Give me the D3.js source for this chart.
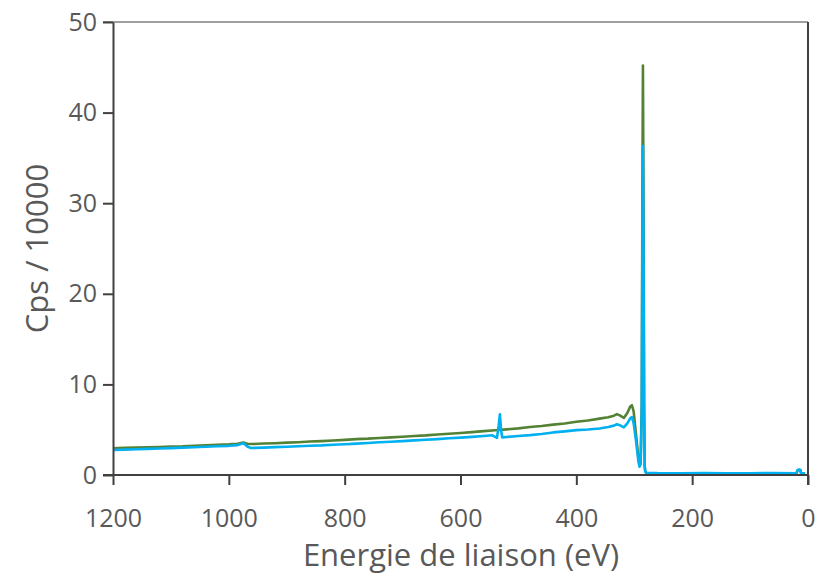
<!DOCTYPE html>
<html>
<head>
<meta charset="utf-8">
<script src="https://cdn.jsdelivr.net/npm/d3@7"></script>
<style>
  body { margin: 0; background: #fff; }
  text { font-family: "Open Sans", sans-serif; fill: #595959; }
</style>
</head>
<body>
<div id="chart"></div>
<script>
let width = 817,
    height = 578,
    margin = ({ top: 22, right: 9, bottom: 103, left: 113 });

// binding energy (eV) / counts (Cps / 10000), green series
const greenEnergy = [1200, 1180, 1160, 1140, 1120, 1100, 1080, 1060, 1040, 1020, 1000, 985, 975, 968, 960,
  940, 920, 900, 880, 860, 840, 820, 800, 780, 760, 740, 720, 700, 680, 660, 640, 620, 600, 580, 560,
  540, 520, 500, 480, 460, 440, 420, 400, 380, 360, 345, 335, 330, 325, 318, 312, 307, 304, 301, 297,
  293, 291, 289, 287, 286, 285, 284, 283, 282, 281, 279, 260, 220, 180, 140, 100, 60, 20, 18, 15, 13, 12, 5];
const greenCps = [2.95, 2.99, 3.02, 3.05, 3.09, 3.14, 3.17, 3.23, 3.27, 3.32, 3.38, 3.45, 3.58, 3.45, 3.42,
  3.47, 3.51, 3.57, 3.62, 3.69, 3.74, 3.81, 3.88, 3.96, 4.01, 4.09, 4.15, 4.23, 4.30, 4.37, 4.47, 4.55, 4.63, 4.73, 4.84,
  4.94, 5.04, 5.15, 5.29, 5.41, 5.56, 5.69, 5.87, 6.02, 6.22, 6.37, 6.55, 6.72, 6.58, 6.30, 6.85, 7.55, 7.70, 7.00, 4.50,
  2.00, 1.10, 1.30, 8.0, 30.0, 45.2, 30.0, 8.0, 1.0, 0.40, 0.22, 0.17, 0.16, 0.17, 0.15, 0.16, 0.17, 0.16, 0.50, 0.55, 0.52, 0.18, 0.16];

// cyan series
const cyanEnergy = [1200, 1180, 1160, 1140, 1120, 1100, 1080, 1060, 1040, 1020, 1000, 985, 975, 968, 962,
  940, 920, 900, 880, 860, 840, 820, 800, 780, 760, 740, 720, 700, 680, 660, 640, 620, 600, 580, 560,
  545, 537, 534, 532, 530, 528, 520, 500, 480, 460, 440, 420, 400, 380, 360, 345, 335, 330, 325, 318,
  312, 307, 304, 301, 297, 293, 291, 289, 287, 286, 285, 284, 283, 282, 281, 279, 260, 220, 180, 140,
  100, 60, 20, 18, 15, 13, 12, 5];
const cyanCps = [2.76, 2.80, 2.85, 2.88, 2.93, 2.97, 3.02, 3.06, 3.11, 3.17, 3.22, 3.30, 3.50, 3.15, 2.98,
  3.02, 3.08, 3.12, 3.17, 3.23, 3.27, 3.34, 3.40, 3.46, 3.53, 3.61, 3.67, 3.74, 3.82, 3.89, 3.96, 4.05, 4.12, 4.21, 4.30,
  4.38, 4.10, 5.5, 6.7, 5.0, 4.15, 4.20, 4.31, 4.40, 4.53, 4.70, 4.82, 4.95, 5.02, 5.14, 5.30, 5.45, 5.60, 5.50, 5.26,
  5.70, 6.25, 6.40, 5.70, 3.80, 1.60, 0.92, 1.20, 7.0, 25.0, 36.3, 25.0, 7.0, 1.0, 0.40, 0.25, 0.21, 0.20, 0.21, 0.19,
  0.20, 0.21, 0.20, 0.55, 0.60, 0.55, 0.20, 0.20];

const xTicks = [1200, 1000, 800, 600, 400, 200, 0];
const yTicks = [0, 10, 20, 30, 40, 50];

const greenData = greenEnergy.map((e, i) => ({ e: e, c: greenCps[i] }));
const cyanData = cyanEnergy.map((e, i) => ({ e: e, c: cyanCps[i] }));

const svg = d3.select("#chart")
    .append("svg")
    .attr("width", width)
    .attr("height", height);

let x = d3.scaleLinear()
    .domain([1200, 0]) // reversed, as usual for binding energy
    .range([margin.left, width - margin.right]);

let y = d3.scaleLinear()
    .domain([0, 50])
    .range([height - margin.bottom, margin.top]);

// top border
svg.append("line")
    .attr("x1", margin.left - 10).attr("x2", width - margin.right)
    .attr("y1", y(50)).attr("y2", y(50))
    .attr("stroke", "#7f7f7f")
    .attr("stroke-width", 1.5);

// right border
svg.append("line")
    .attr("x1", x(0)).attr("x2", x(0))
    .attr("y1", y(50)).attr("y2", y(0) + 10)
    .attr("stroke", "#404040")
    .attr("stroke-width", 2);

let line = d3.line()
    .x(d => x(d.e))
    .y(d => y(d.c));

svg.append("path")
    .datum(greenData)
    .attr("fill", "none")
    .attr("stroke", "#548235")
    .attr("stroke-width", 2.6)
    .attr("stroke-linejoin", "round")
    .attr("d", line);

svg.append("path")
    .datum(cyanData)
    .attr("fill", "none")
    .attr("stroke", "#00b0f0")
    .attr("stroke-width", 2.6)
    .attr("stroke-linejoin", "round")
    .attr("d", line);

let xAxis = svg.append("g")
    .attr("transform", `translate(0,${y(0)})`)
    .call(d3.axisBottom(x).tickValues(xTicks).tickFormat(d3.format("d"))
      .tickSize(10).tickPadding(24).tickSizeOuter(0));

let yAxis = svg.append("g")
    .attr("transform", `translate(${margin.left},0)`)
    .call(d3.axisLeft(y).tickValues(yTicks).tickFormat(d3.format("d"))
      .tickSize(10).tickPadding(6).tickSizeOuter(0));

for (let g of [xAxis, yAxis]) {
  g.select(".domain").attr("stroke", "#404040").attr("stroke-width", 2);
  g.selectAll(".tick line").attr("stroke", "#404040").attr("stroke-width", 2);
  g.selectAll(".tick text").attr("fill", "#595959").style("font-size", "25px");
}
// x axis line runs a bit left past the y axis
xAxis.select(".domain").attr("d", `M${margin.left - 10},0H${width - margin.right}`);

svg.append("text")
    .attr("x", 461)
    .attr("y", 566)
    .attr("text-anchor", "middle")
    .style("font-size", "31px")
    .text("Energie de liaison (eV)");

svg.append("text")
    .attr("transform", `translate(48,${(margin.top + height - margin.bottom) / 2}) rotate(-90)`)
    .attr("text-anchor", "middle")
    .style("font-size", "31px")
    .text("Cps / 10000");
</script>
</body>
</html>
